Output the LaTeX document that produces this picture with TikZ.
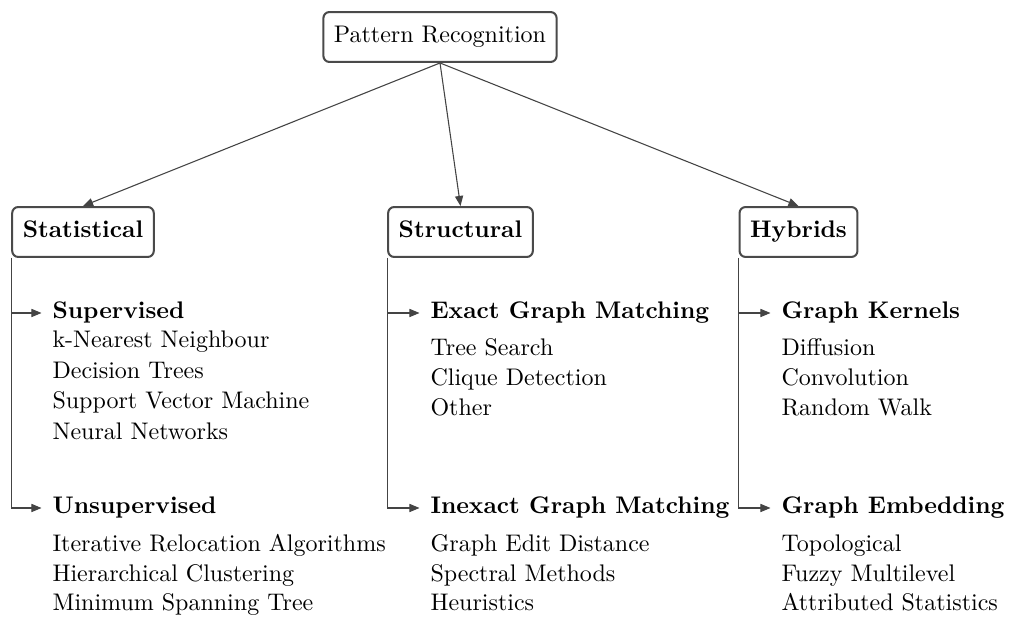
\documentclass[tikz,border=0pt]{standalone}
\usetikzlibrary{arrows.meta}
\definecolor{edgegray}{HTML}{444444}
\definecolor{boxgray}{HTML}{4A4A4A}
\begin{document}
\begin{tikzpicture}[x=0.4167pt, y=-0.4167pt,
  catbox/.style={draw=boxgray, line width=0.85pt, rounded corners=2.5pt,
    inner xsep=4.4pt, minimum height=20.8pt, text height=6.9pt, text depth=1.9pt},
  conn/.style={draw=edgegray, line width=0.45pt,
    -{Triangle[length=4.2pt,width=3.4pt]}},
  branch/.style={anchor=west, inner xsep=4.4pt, inner ysep=0pt,
    text height=6.9pt, text depth=1.9pt, font=\bfseries},
  entry/.style={anchor=west, inner xsep=4.4pt, inner ysep=0pt,
    text height=6.9pt, text depth=1.9pt}]
\useasboundingbox (0,0) rectangle (1011,617);

% top level
\node[catbox] (root) at (440,37) {Pattern Recognition};
\node[catbox, font=\bfseries] (stat) at (83,232) {Statistical};
\node[catbox, font=\bfseries] (struct) at (460.5,232) {Structural};
\node[catbox, font=\bfseries] (hyb) at (798.5,232) {Hybrids};

\draw[conn] (root.south) -- (stat.north);
\draw[conn] (root.south) -- (struct.north);
\draw[conn] (root.south) -- (hyb.north);

% statistical methods
\node[branch] (sup) at (41.5,313) {Supervised};
\node[entry] (s1) at (41.5,342) {k-Nearest Neighbour};
\node[entry] (s2) at (41.5,372.5) {Decision Trees};
\node[entry] (s3) at (41.5,403) {Support Vector Machine};
\node[entry] (s4) at (41.5,433.5) {Neural Networks};
\node[branch] (unsup) at (41.5,508) {Unsupervised};
\node[entry] (u1) at (41.5,546) {Iterative Relocation Algorithms};
\node[entry] (u2) at (41.5,575.5) {Hierarchical Clustering};
\node[entry] (u3) at (41.5,605) {Minimum Spanning Tree};

% structural methods
\node[branch] (exact) at (419.5,313) {Exact Graph Matching};
\node[entry] (e1) at (419.5,350) {Tree Search};
\node[entry] (e2) at (419.5,380) {Clique Detection};
\node[entry] (e3) at (419.5,410) {Other};
\node[branch] (inexact) at (419.5,508) {Inexact Graph Matching};
\node[entry] (i1) at (419.5,546) {Graph Edit Distance};
\node[entry] (i2) at (419.5,575.5) {Spectral Methods};
\node[entry] (i3) at (419.5,605) {Heuristics};

% hybrid methods
\node[branch] (kern) at (770.5,313) {Graph Kernels};
\node[entry] (k1) at (770.5,350) {Diffusion};
\node[entry] (k2) at (770.5,380) {Convolution};
\node[entry] (k3) at (770.5,410) {Random Walk};
\node[branch] (emb) at (770.5,508) {Graph Embedding};
\node[entry] (m1) at (770.5,546) {Topological};
\node[entry] (m2) at (770.5,575.5) {Fuzzy Multilevel};
\node[entry] (m3) at (770.5,605) {Attributed Statistics};

% branch connectors
\draw[conn] (stat.south west) |- (sup.west);
\draw[conn] (stat.south west) |- (unsup.west);
\draw[conn] (struct.south west) |- (exact.west);
\draw[conn] (struct.south west) |- (inexact.west);
\draw[conn] (hyb.south west) |- (kern.west);
\draw[conn] (hyb.south west) |- (emb.west);
\end{tikzpicture}
\end{document}
